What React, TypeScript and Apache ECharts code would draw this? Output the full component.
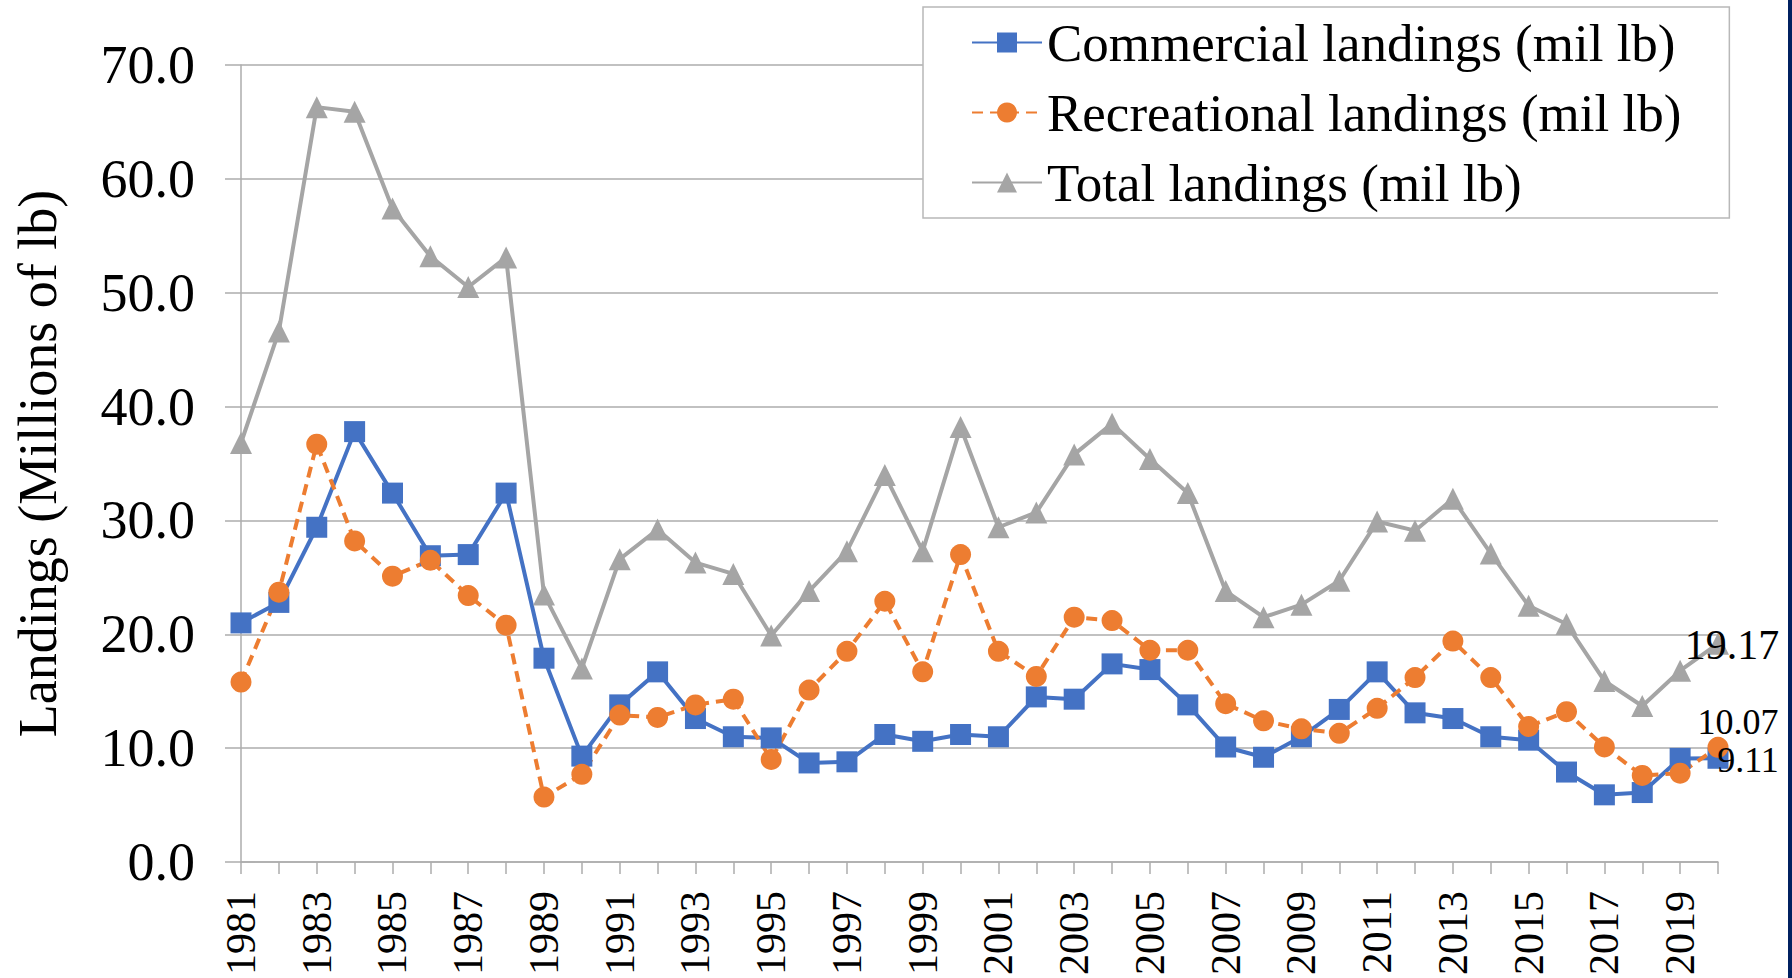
import React, { useEffect, useRef } from "react";
import * as echarts from "echarts";

const years: string[] = [
  "1981","1982","1983","1984","1985","1986","1987","1988","1989","1990",
  "1991","1992","1993","1994","1995","1996","1997","1998","1999","2000",
  "2001","2002","2003","2004","2005","2006","2007","2008","2009","2010",
  "2011","2012","2013","2014","2015","2016","2017","2018","2019","2020",
];

const commercial: number[] = [
  21.0, 22.8, 29.4, 37.8, 32.4, 26.9, 27.0, 32.4, 17.9, 9.3,
  13.8, 16.7, 12.6, 11.0, 10.9, 8.7, 8.8, 11.2, 10.6, 11.2,
  11.0, 14.5, 14.3, 17.4, 16.9, 13.8, 10.1, 9.2, 11.0, 13.4,
  16.7, 13.1, 12.6, 11.0, 10.7, 7.9, 5.9, 6.1, 9.1, 9.11,
];

const recreational: number[] = [
  15.8, 23.7, 36.7, 28.2, 25.1, 26.5, 23.4, 20.8, 5.7, 7.7,
  12.9, 12.7, 13.8, 14.3, 9.0, 15.1, 18.5, 22.9, 16.7, 27.0,
  18.5, 16.3, 21.5, 21.2, 18.6, 18.6, 13.9, 12.4, 11.7, 11.3,
  13.5, 16.2, 19.4, 16.2, 11.9, 13.2, 10.1, 7.6, 7.8, 10.07,
];

const total: number[] = [
  36.8, 46.6, 66.3, 65.9, 57.4, 53.2, 50.5, 53.1, 23.5, 17.0,
  26.6, 29.2, 26.3, 25.3, 19.9, 23.8, 27.3, 34.0, 27.3, 38.2,
  29.4, 30.7, 35.8, 38.5, 35.4, 32.4, 23.8, 21.5, 22.6, 24.7,
  29.9, 29.1, 31.9, 27.1, 22.5, 20.9, 15.9, 13.7, 16.8, 19.17,
];

const seriesNames: string[] = [
  "Commercial landings (mil lb)",
  "Recreational landings (mil lb)",
  "Total landings (mil lb)",
];

const yAxisName = "Landings (Millions of lb)";

const FONT = "'Liberation Serif', 'Times New Roman', serif";
const GRID_GREY = "#acacac";

function withLastLabel(values: number[], fontSize: number, offset: number[]) {
  return values.map((v, i) =>
    i === values.length - 1
      ? {
          value: v,
          label: {
            show: true,
            position: "inside",
            offset,
            formatter: String(v),
            fontFamily: FONT,
            fontSize,
            color: "#000",
          },
        }
      : v
  );
}

export default function App() {
  const ref = useRef<HTMLDivElement>(null);

  useEffect(() => {
    if (!ref.current) return;
    const chart = echarts.init(ref.current, undefined, { renderer: "svg" });
    chart.setOption({
      animation: false,
      backgroundColor: "#ffffff",
      grid: { left: 241, right: 74, top: 65, bottom: 112 },
      legend: {
        orient: "vertical",
        left: 923,
        top: 7,
        itemWidth: 70,
        itemHeight: 25,
        itemGap: 17,
        padding: [9, 48, 9, 48],
        backgroundColor: "#ffffff",
        borderColor: "#b8b8b8",
        borderWidth: 1.5,
        textStyle: { fontFamily: FONT, fontSize: 53, lineHeight: 53, color: "#000" },
        data: seriesNames,
      },
      xAxis: {
        type: "category",
        data: years,
        boundaryGap: false,
        axisLine: { show: true, lineStyle: { color: GRID_GREY, width: 1.5 } },
        axisTick: { show: true, interval: 0, length: 12, lineStyle: { color: GRID_GREY, width: 1.5 } },
        axisLabel: {
          interval: 1,
          rotate: 90,
          margin: 29,
          fontFamily: FONT,
          fontSize: 42,
          color: "#000",
        },
        splitLine: { show: false },
      },
      yAxis: {
        type: "value",
        min: 0,
        max: 70,
        interval: 10,
        name: yAxisName,
        nameLocation: "middle",
        nameGap: 176,
        nameTextStyle: { fontFamily: FONT, fontSize: 54, color: "#000" },
        axisLine: { show: true, lineStyle: { color: GRID_GREY, width: 1.5 } },
        axisTick: { show: true, length: 16, lineStyle: { color: GRID_GREY, width: 1.5 } },
        axisLabel: {
          margin: 46,
          fontFamily: FONT,
          fontSize: 54,
          color: "#000",
          formatter: (v: number) => v.toFixed(1),
        },
        splitLine: { show: true, lineStyle: { color: GRID_GREY, width: 1.5 } },
      },
      series: [
        {
          name: seriesNames[0],
          type: "line",
          data: withLastLabel(commercial, 36, [30, 2]),
          symbol: "rect",
          symbolSize: 21,
          showAllSymbol: true,
          clip: false,
          color: "#4472C4",
          lineStyle: { color: "#4472C4", width: 4, type: "solid" },
          itemStyle: { color: "#4472C4" },
        },
        {
          name: seriesNames[1],
          type: "line",
          data: withLastLabel(recreational, 36, [20, -25]),
          symbol: "circle",
          symbolSize: 21,
          showAllSymbol: true,
          clip: false,
          color: "#ED7D31",
          lineStyle: { color: "#ED7D31", width: 4, type: [11, 7] },
          itemStyle: { color: "#ED7D31" },
        },
        {
          name: seriesNames[2],
          type: "line",
          data: withLastLabel(total, 42, [14, 1]),
          symbol: "triangle",
          symbolSize: 22,
          showAllSymbol: true,
          clip: false,
          color: "#A5A5A5",
          lineStyle: { color: "#A5A5A5", width: 4, type: "solid" },
          itemStyle: { color: "#A5A5A5" },
        },
      ],
      graphic: [
        {
          type: "rect",
          right: 0,
          top: 0,
          z: 100,
          shape: { width: 4, height: 978 },
          style: { fill: "#002060" },
        },
      ],
    });
    return () => chart.dispose();
  }, []);

  return (
    <div
      ref={ref}
      style={{ position: "fixed", left: 0, top: 0, width: 1792, height: 978 }}
    />
  );
}
